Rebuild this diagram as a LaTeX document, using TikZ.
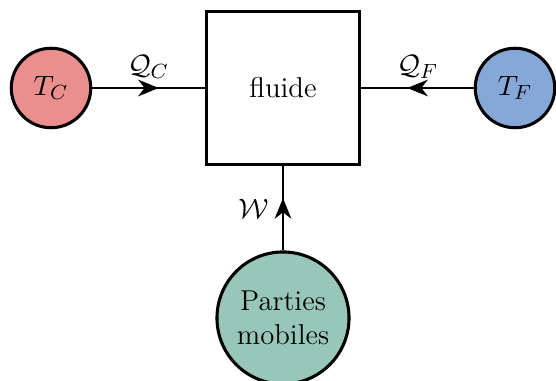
\documentclass[tikz,border=0pt]{standalone}
\usetikzlibrary{arrows.meta,decorations.markings}
\definecolor{hotc}{RGB}{234,142,142}
\definecolor{coldc}{RGB}{134,168,216}
\definecolor{mobc}{RGB}{152,199,186}
\begin{document}
\begin{tikzpicture}[x=0.39pt,y=-0.39pt,
  font=\fontsize{11.2}{13.5}\selectfont,
  res/.style={circle,draw,line width=1.2pt,minimum size=31pt,inner sep=0pt},
  box/.style={rectangle,draw,line width=1.2pt,minimum size=60pt,inner sep=0pt},
  flow/.style={line width=0.8pt,postaction={decorate},
    decoration={markings,mark=at position 0.5 with {\arrow[xshift=4pt]{Stealth[length=8pt,width=6.5pt,inset=2.5pt]}}}}]
\useasboundingbox (0,0) rectangle (556,381);
\node[box] (f) at (283,88) {fluide};
\node[res,fill=hotc] (tc) at (51,88) {$T_C$};
\node[res,fill=coldc] (tf) at (515,88) {$T_F$};
\node[res,fill=mobc,minimum size=51.5pt,align=center] (m) at (283,318) {Parties\\mobiles};
\draw[flow] (tc) -- node[above=0pt] {$\mathcal{Q}_C$} (f);
\draw[flow] (tf) -- node[above=0pt] {$\mathcal{Q}_F$} (f);
\draw[flow] (m) -- node[left=2pt] {$\mathcal{W}$} (f);
\end{tikzpicture}
\end{document}
